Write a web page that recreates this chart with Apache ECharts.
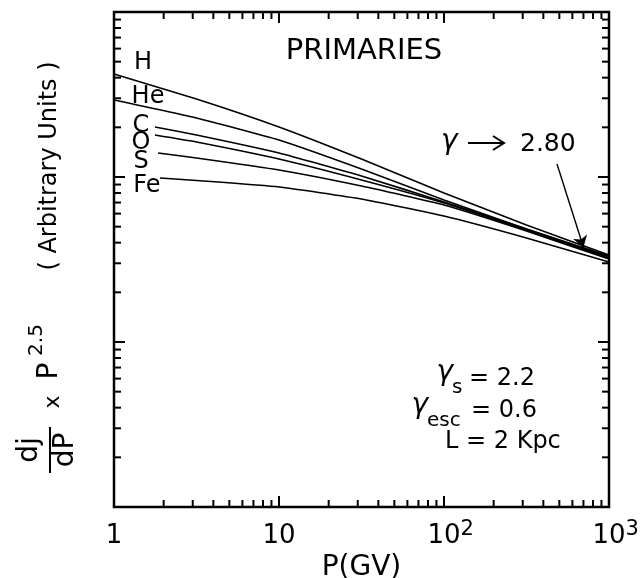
<!DOCTYPE html>
<html>
<head>
<meta charset="utf-8">
<script src="https://cdn.jsdelivr.net/npm/echarts@6/dist/echarts.min.js"></script>
<style>
html, body { margin: 0; padding: 0; background: #fff; }
#chart { width: 644px; height: 578px; }
</style>
</head>
<body>
<div id="chart"></div>
<script>
// Rigidity P (GV) and dj/dP x P^2.5 (arbitrary units) for each primary species
const hP  = [1, 3.16, 10, 31.6, 100, 316, 1000];
const hV  = [421, 297, 201, 128.5, 80.0, 51.2, 33.7];
const heP = [1, 3.16, 10, 31.6, 100, 316, 1000];
const heV = [293, 228, 167.6, 111.8, 72.5, 48.4, 33.2];
const cP  = [1.77, 3.16, 10, 31.6, 100, 316, 1000];
const cV  = [201, 179.7, 139.8, 101.4, 70.6, 48.4, 32.7];
const oP  = [1.77, 3.16, 10, 31.6, 100, 316, 1000];
const oV  = [179.7, 163.0, 128.5, 95.9, 69.6, 47.7, 32.3];
const sP  = [1.85, 3.16, 10, 31.6, 100, 316, 1000];
const sV  = [139.8, 130.4, 110.3, 88.2, 67.7, 47.1, 31.8];
const feP = [1.9, 3.16, 10, 31.6, 100, 316, 1000];
const feV = [98.6, 95.2, 87.0, 73.6, 58.0, 42.7, 30.5];

const elementNames = ['H', 'He', 'C', 'O', 'S', 'Fe'];

// x axis tick labels: mantissa and exponent
const xTickValues = [1, 10, 100, 1000];
const xTickBase   = ['1', '10', '10', '10'];
const xTickExp    = ['', '', '2', '3'];

// asymptotic index arrow: start and end in data space (P, flux)
const arrowFrom = [484, 120];
const arrowTo   = [700, 37.5];

const FONT = 'DejaVu Sans';

const curves = [
  { name: 'H',  p: hP,  v: hV,  off: [29, -11] },
  { name: 'He', p: heP, v: heV, off: [34, -3] },
  { name: 'C',  p: cP,  v: cV,  off: [-14, -1] },
  { name: 'O',  p: oP,  v: oV,  off: [-14, 8] },
  { name: 'S',  p: sP,  v: sV,  off: [-17, 9] },
  { name: 'Fe', p: feP, v: feV, off: [-13, 8] }
];

// log-decade tick marks: [value, isMajor]
const logTicks = [];
for (let d = 0; d < 3; d++) {
  for (let m = 1; m <= 9; m++) {
    const v = m * Math.pow(10, d);
    if (v > 1) logTicks.push([v, m === 1 ? 1 : 0]);
  }
}

const chart = echarts.init(document.getElementById('chart'), null, { renderer: 'canvas' });

const lineSeries = curves.map((c, idx) => {
  const s = {
    name: c.name,
    type: 'line',
    data: c.p.map((p, i) => [p, c.v[i]]),
    showSymbol: false,
    symbol: 'none',
    smooth: 0.15,
    lineStyle: { color: '#000', width: 1.6 },
    z: 3,
    markPoint: {
      symbol: 'circle',
      symbolSize: 1,
      itemStyle: { color: 'rgba(0,0,0,0)' },
      silent: true,
      data: [{
        coord: [c.p[0], c.v[0]],
        label: {
          show: true,
          position: 'inside',
          offset: c.off,
          formatter: c.name,
          color: '#000',
          fontFamily: FONT,
          fontSize: 24
        }
      }]
    }
  };
  if (idx === 0) {
    s.markLine = {
      silent: true,
      symbol: ['none', 'arrow'],
      symbolSize: 11,
      lineStyle: { color: '#000', width: 1.4, type: 'solid' },
      label: { show: false },
      data: [[{ coord: arrowFrom }, { coord: arrowTo }]]
    };
  }
  return s;
});

function tickSeries(horizontal) {
  return {
    type: 'custom',
    coordinateSystem: 'cartesian2d',
    silent: true,
    clip: false,
    z: 5,
    data: logTicks.map(t => horizontal ? [t[0], 1, t[1]] : [1, t[0], t[1]]),
    renderItem: function (params, api) {
      const major = api.value(2);
      const len = major ? 11 : 7;
      const st = { stroke: '#000', lineWidth: 2 };
      if (horizontal) {
        const v = api.value(0);
        const b = api.coord([v, 1]);
        const t = api.coord([v, 1000]);
        return { type: 'group', children: [
          { type: 'line', shape: { x1: b[0], y1: b[1], x2: b[0], y2: b[1] - len }, style: st },
          { type: 'line', shape: { x1: t[0], y1: t[1], x2: t[0], y2: t[1] + len }, style: st }
        ]};
      }
      const v = api.value(1);
      const l = api.coord([1, v]);
      const r = api.coord([1000, v]);
      return { type: 'group', children: [
        { type: 'line', shape: { x1: l[0], y1: l[1], x2: l[0] + len, y2: l[1] }, style: st },
        { type: 'line', shape: { x1: r[0], y1: r[1], x2: r[0] - len, y2: r[1] }, style: st }
      ]};
    }
  };
}

const txt = (text, x, y, size, align, extra) => ({
  type: 'text', x: x, y: y, z: 10,
  style: Object.assign({ text: text, fill: '#000', fontFamily: FONT, fontSize: size,
    align: align || 'left', verticalAlign: 'middle' }, extra || {})
});
const ital = { fontStyle: 'italic' };

const option = {
  animation: false,
  backgroundColor: '#fff',
  grid: {
    left: 114, right: 35, top: 12, bottom: 71,
    outerBoundsMode: 'none',
    containLabel: false,
    show: true, borderColor: '#000', borderWidth: 2.5, backgroundColor: 'transparent'
  },
  xAxis: {
    type: 'log', logBase: 10, min: 1, max: 1000,
    name: 'P(GV)', nameLocation: 'middle', nameGap: 34,
    nameTextStyle: { color: '#000', fontFamily: FONT, fontSize: 28 },
    axisLine: { show: false }, axisTick: { show: false }, splitLine: { show: false },
    axisLabel: {
      color: '#000', fontFamily: FONT, fontSize: 26, margin: 12,
      formatter: function (val) {
        const i = xTickValues.indexOf(Math.round(val));
        if (i < 0) return '';
        const e = xTickExp[i];
        return e ? '{h|' + e + '}{b|' + xTickBase[i] + '}{s|' + e + '}' : '{b|' + xTickBase[i] + '}';
      },
      rich: {
        b: { fontFamily: FONT, fontSize: 26, color: '#000', lineHeight: 30, verticalAlign: 'bottom' },
        s: { fontFamily: FONT, fontSize: 21, color: '#000', lineHeight: 30, verticalAlign: 'top' },
        h: { fontFamily: FONT, fontSize: 21, color: 'rgba(0,0,0,0)', lineHeight: 30, verticalAlign: 'top' }
      }
    }
  },
  yAxis: {
    type: 'log', logBase: 10, min: 1, max: 1000,
    axisLine: { show: false }, axisTick: { show: false }, splitLine: { show: false },
    axisLabel: { show: false }
  },
  series: lineSeries.concat([tickSeries(true), tickSeries(false)]),
  graphic: [
    txt('PRIMARIES', 364, 51, 29, 'center'),
    // asymptotic index note
    txt('γ', 441, 142, 28, 'left', ital),
    { type: 'polyline', z: 10, shape: { points: [[468, 143], [504, 143]] }, style: { stroke: '#000', lineWidth: 2 } },
    { type: 'polyline', z: 10, shape: { points: [[493, 136], [504, 143], [493, 150]] }, style: { stroke: '#000', lineWidth: 2, fill: null } },
    txt('2.80', 520, 144, 25, 'left'),
    // model parameters
    txt('γ', 453, 373, 28, 'right', ital),
    txt('s', 452, 388, 20, 'left'),
    txt('= 2.2', 469, 379, 24, 'left'),
    txt('γ', 428, 406, 28, 'right', ital),
    txt('esc', 427, 421, 20, 'left'),
    txt('= 0.6', 471, 411, 24, 'left'),
    txt('L = 2 Kpc', 445, 442, 24, 'left'),
    // rotated y axis title
    {
      type: 'group', x: 50, y: 473, rotation: Math.PI / 2, z: 10,
      children: [
        { type: 'line', shape: { x1: 0, y1: 0, x2: 46, y2: 0 }, style: { stroke: '#000', lineWidth: 2 } },
        txt('dj', 23, -20, 28, 'center'),
        txt('dP', 23, 16, 28, 'center'),
        txt('x', 71, 3, 22, 'center'),
        txt('P', 102, 0, 28, 'center'),
        txt('2.5', 133, -13, 20, 'center'),
        txt('( Arbitrary Units )', 307, 0, 24, 'center')
      ]
    }
  ]
};

chart.setOption(option);
</script>
</body>
</html>
